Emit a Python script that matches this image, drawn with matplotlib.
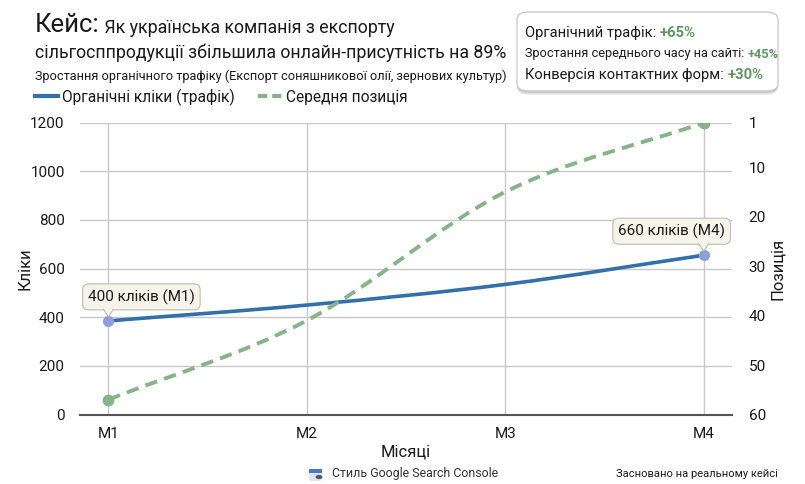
import matplotlib
matplotlib.use('Agg')
import matplotlib.pyplot as plt
from matplotlib.path import Path
from matplotlib.patches import PathPatch, FancyBboxPatch, Circle, Rectangle, Polygon
from matplotlib.lines import Line2D
from matplotlib.text import Annotation
import matplotlib.transforms as mtransforms
import numpy as np

plt.rcParams['font.family'] = ['Roboto', 'DejaVu Sans']
plt.rcParams['axes.unicode_minus'] = False

# data
months = ['M1', 'M2', 'M3', 'M4']
clicks = [385, 450, 535, 655]
positions = [57, 41, 15, 1]
left_ticks = [0, 200, 400, 600, 800, 1000, 1200]
right_ticks = [1, 10, 20, 30, 40, 50, 60]
stats_labels = ['Органічний трафік: ', 'Зростання середнього часу на сайті: ', 'Конверсія контактних форм: ']
stats_values = ['+65%', '+45%', '+30%']

BLUE = '#3170a8'
GREEN = '#86b487'
DOT_BLUE = '#8c9fdc'
TEXT = '#1a1a1a'
GRID = '#c9c9c9'
BUBBLE_FC = '#f4f4ea'
BUBBLE_EC = '#bdbdb0'


def smooth_path(xs, ys):
    # monotone cubic bezier through the points
    xs = np.asarray(xs, float)
    ys = np.asarray(ys, float)
    d = np.diff(ys) / np.diff(xs)
    m = np.zeros_like(ys)
    m[0], m[-1] = d[0], d[-1]
    for i in range(1, len(ys) - 1):
        m[i] = 0 if d[i - 1] * d[i] <= 0 else (d[i - 1] + d[i]) / 2
    verts = [(xs[0], ys[0])]
    codes = [Path.MOVETO]
    for i in range(len(xs) - 1):
        h = xs[i + 1] - xs[i]
        verts += [(xs[i] + h / 3, ys[i] + m[i] * h / 3),
                  (xs[i + 1] - h / 3, ys[i + 1] - m[i + 1] * h / 3),
                  (xs[i + 1], ys[i + 1])]
        codes += [Path.CURVE4] * 3
    return Path(verts, codes)


def fx(px):
    return px / 805


def fy(py):
    return 1 - py / 484


def callout(ax, xv, yv, text, dx):
    ax.annotate(text, xy=(xv, yv), xytext=(dx, 24), textcoords='offset pixels',
                ha='center', va='center', fontsize=11, color=TEXT, zorder=5,
                bbox=dict(boxstyle='round,pad=0.35,rounding_size=0.4', fc=BUBBLE_FC,
                          ec=BUBBLE_EC, lw=0.8))
    # little pointer under the bubble
    tr = mtransforms.Affine2D() + mtransforms.ScaledTranslation(xv, yv, ax.transData)
    ax.add_patch(Polygon([(-5, 12.5), (5, 12.5), (0, 4)], closed=True, fc=BUBBLE_FC,
                         ec='none', transform=tr, zorder=6, clip_on=False))
    ax.add_line(Line2D([-5, 0, 5], [11.6, 4, 11.6], color=BUBBLE_EC, lw=0.8,
                       transform=tr, zorder=6, clip_on=False))


fig = plt.figure(figsize=(8.05, 4.84), dpi=100)
fig.patch.set_facecolor('white')
ax = fig.add_axes([fx(80), fy(414.5), 652 / 805, 291.8 / 484])
ax2 = ax.twinx()

x = np.arange(len(months))

ax.set_xlim(-0.143, 3.143)
ax.set_ylim(0, 1200)
ax2.set_ylim(60, 1)

ax.set_xticks(x, months)
ax.set_yticks(left_ticks)
ax2.set_yticks(right_ticks)
ax.grid(True, color=GRID, linewidth=1)
ax.set_axisbelow(True)

for a in (ax, ax2):
    for s in ('top', 'left', 'right'):
        a.spines[s].set_visible(False)
    a.tick_params(length=0, labelsize=11, colors=TEXT)
ax.spines['bottom'].set_visible(False)
ax2.spines['bottom'].set_color('#555555')
ax2.spines['bottom'].set_linewidth(1.5)
ax.tick_params(axis='x', pad=9)
ax.tick_params(axis='y', pad=11)
ax2.tick_params(axis='y', pad=12)

# lines
ax.add_patch(PathPatch(smooth_path(x, clicks), fill=False, edgecolor=BLUE,
                       linewidth=2.6, zorder=3, capstyle='round'))
ax2.add_patch(PathPatch(smooth_path(x, positions), fill=False, edgecolor=GREEN,
                        linewidth=2.8, linestyle=(0, (3.2, 1.9)), zorder=3))
ax.plot([x[0], x[-1]], [clicks[0], clicks[-1]], 'o', color=DOT_BLUE, markersize=7, zorder=4)
ax2.plot([x[0], x[-1]], [positions[0], positions[-1]], 'o', color=GREEN, markersize=7.5, zorder=4)

ax.set_xlabel('Місяці', fontsize=12, color=TEXT)
ax.xaxis.set_label_coords(0.5, (414.5 - 452) / 291.8)
ax.xaxis.label.set_va('center')
ax.set_ylabel('Кліки', fontsize=12, color=TEXT)
ax.yaxis.set_label_coords((25 - 80) / 652, 0.5)
ax.yaxis.label.set_va('center')
ax2.set_ylabel('Позиція', fontsize=12, color=TEXT, rotation=90)
ax2.yaxis.set_label_coords((777 - 80) / 652, 0.5)
ax2.yaxis.label.set_va('center')

# callouts
callout(ax, x[0], clicks[0], '400 кліків (M1)', 33)
callout(ax, x[-1], clicks[-1], '660 кліків (M4)', -32)

# title block
t1 = fig.text(fx(35), fy(32), 'Кейс:', fontsize=18.5, color=TEXT, ha='left', va='baseline')
fig.add_artist(Annotation(' Як українська компанія з експорту', xy=(1, 0), xycoords=t1,
                          fontsize=12.8, color=TEXT, ha='left', va='bottom'))
fig.text(fx(35), fy(58), 'сільгосппродукції збільшила онлайн-присутність на 89%',
         fontsize=12.8, color=TEXT, ha='left', va='baseline')
fig.text(fx(35), fy(80),
         'Зростання органічного трафіку (Експорт соняшникової олії, зернових культур)',
         fontsize=9.2, color=TEXT, ha='left', va='baseline')

handles = [Line2D([], [], color=BLUE, lw=3),
           Line2D([], [], color=GREEN, lw=3, linestyle=(0, (2.2, 1.2)))]
fig.legend(handles, ['Органічні кліки (трафік)', 'Середня позиція'], loc='center left',
           bbox_to_anchor=(fx(35), fy(97)), ncol=2, frameon=False, fontsize=11.2,
           handlelength=1.5, handletextpad=0.25, columnspacing=1.5, labelcolor=TEXT,
           borderpad=0, borderaxespad=0)

# stats box
for off, alpha in ((4, 0.05), (3, 0.07), (2, 0.09)):
    fig.patches.append(FancyBboxPatch((fx(517), fy(91 + off)), 261 / 805, 79 / 484,
                                      boxstyle='round,pad=0,rounding_size=0.015',
                                      transform=fig.transFigure, fc='black', ec='none',
                                      alpha=alpha, zorder=1))
fig.patches.append(FancyBboxPatch((fx(517), fy(91)), 261 / 805, 79 / 484,
                                  boxstyle='round,pad=0,rounding_size=0.015',
                                  transform=fig.transFigure, fc='white', ec='#c8c8c8',
                                  lw=0.9, zorder=2))
line_y = [33, 54, 75]
line_fs = [10.6, 9.2, 10.6]
for lbl, val, yy, fs in zip(stats_labels, stats_values, line_y, line_fs):
    tl = fig.text(fx(525), fy(yy), lbl, fontsize=fs, color=TEXT, ha='left',
                  va='center', zorder=3)
    fig.add_artist(Annotation(val, xy=(1, 0.5), xycoords=tl, fontsize=fs, color='#5e9a5e',
                              fontweight='bold', ha='left', va='center', zorder=3))

# footer
fig.patches.append(FancyBboxPatch((fx(309), fy(481)), 13 / 805, 12 / 484,
                                  boxstyle='round,pad=0,rounding_size=0.004',
                                  transform=fig.transFigure, fc='#dfe3ea', ec='none', zorder=2))
fig.patches.append(Rectangle((fx(309), fy(473)), 13 / 805, 4 / 484,
                             transform=fig.transFigure, fc='#4a78c8', ec='none', zorder=3))
fig.patches.append(Circle((fx(319), fy(477)), 3.5 / 805, transform=fig.transFigure,
                          fc='#4f5b6b', ec='none', zorder=4))
fig.text(fx(332), fy(474), 'Стиль Google Search Console', fontsize=8.9,
         color='#333333', ha='left', va='center')
fig.text(fx(778), fy(474), 'Засновано на реальному кейсі', fontsize=8,
         color=TEXT, ha='right', va='center')

fig.savefig('out.png', dpi=100, facecolor='white')
